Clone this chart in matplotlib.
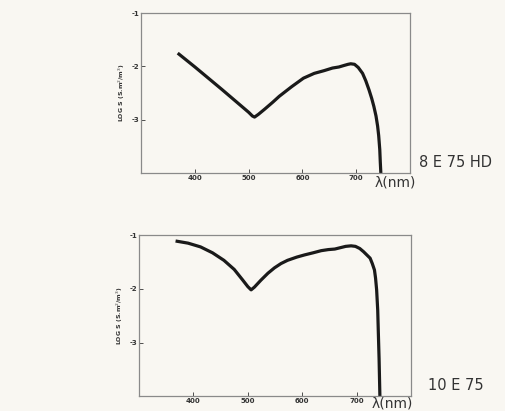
import matplotlib
matplotlib.use("Agg")
import matplotlib.pyplot as plt

# spectra (wavelength in nm, log S)
top_wl = [368, 400, 450, 500, 507, 511, 518, 530, 545, 557, 580, 602, 622, 640, 656, 668,
          678, 685, 690, 697, 704, 712, 718, 724, 729, 733, 737, 740, 742, 744, 745, 746]
top_logs = [-1.75, -2.01, -2.43, -2.86, -2.93, -2.95, -2.90, -2.80, -2.67, -2.56, -2.38, -2.22, -2.13, -2.08, -2.03, -2.01,
            -1.98, -1.96, -1.95, -1.96, -2.02, -2.13, -2.27, -2.44, -2.60, -2.75, -2.93, -3.12, -3.30, -3.56, -3.80, -4.0]

bot_wl = [367, 390, 413, 435, 456, 475, 490, 500, 506, 512, 524, 537, 549, 561, 573, 590, 604, 620, 635,
          648, 660, 672, 680, 690, 698, 706, 713, 719, 725, 729, 733, 735, 737, 739, 740, 741.5, 743]
bot_logs = [-1.11, -1.15, -1.22, -1.33, -1.47, -1.64, -1.83, -1.96, -2.02, -1.97, -1.84, -1.71, -1.61, -1.53, -1.47, -1.41, -1.37, -1.33, -1.29,
            -1.27, -1.26, -1.23, -1.21, -1.20, -1.21, -1.25, -1.31, -1.37, -1.43, -1.53, -1.65, -1.80, -2.02, -2.40, -2.77, -3.30, -4.0]

x_ticks = [400, 500, 600, 700]
y_ticks = [-1, -2, -3]
labels = ["8 E 75 HD", "10 E 75"]

BG = "#f9f7f2"
LINE = "#1a1a1a"
SPINE = "#8a8a8a"
TXT = "#333333"

fig = plt.figure(figsize=(5.06, 4.11), dpi=100, facecolor=BG)
ax1 = fig.add_axes([0.279, 0.579, 0.531, 0.389])
ax2 = fig.add_axes([0.275, 0.036, 0.537, 0.392])


def style(ax, wl, logs, tag, lam_x, lam_y, tag_x):
    ax.set_facecolor(BG)
    ax.plot(wl, logs, color=LINE, linewidth=2.3, solid_joinstyle="round", solid_capstyle="butt")
    ax.set_xlim(300, 800)
    ax.set_ylim(-4, -1)
    ax.set_xticks(x_ticks)
    ax.set_yticks(y_ticks)
    ax.set_yticklabels([str(t) for t in y_ticks])
    ax.tick_params(direction="in", length=3, width=0.6, labelsize=5, colors=TXT, pad=1.5)
    for lb in ax.get_xticklabels() + ax.get_yticklabels():
        lb.set_fontweight("bold")
    for s in ax.spines.values():
        s.set_color(SPINE)
        s.set_linewidth(0.9)
    ax.set_ylabel("LOG S (S.m$^2$/m$^3$)", fontsize=4.5, labelpad=3, color=TXT, fontweight="bold")
    ax.text(lam_x, lam_y, "λ(nm)", transform=ax.transAxes, fontsize=10, ha="left", va="center", color=TXT)
    ax.text(tag_x, 0.065, tag, transform=ax.transAxes, fontsize=10.5, ha="left", va="center", color=TXT)


style(ax1, top_wl, top_logs, labels[0], 0.87, -0.058, 1.033)
style(ax2, bot_wl, bot_logs, labels[1], 0.857, -0.045, 1.063)

plt.savefig("out.png", dpi=100, facecolor=BG)
plt.close()
